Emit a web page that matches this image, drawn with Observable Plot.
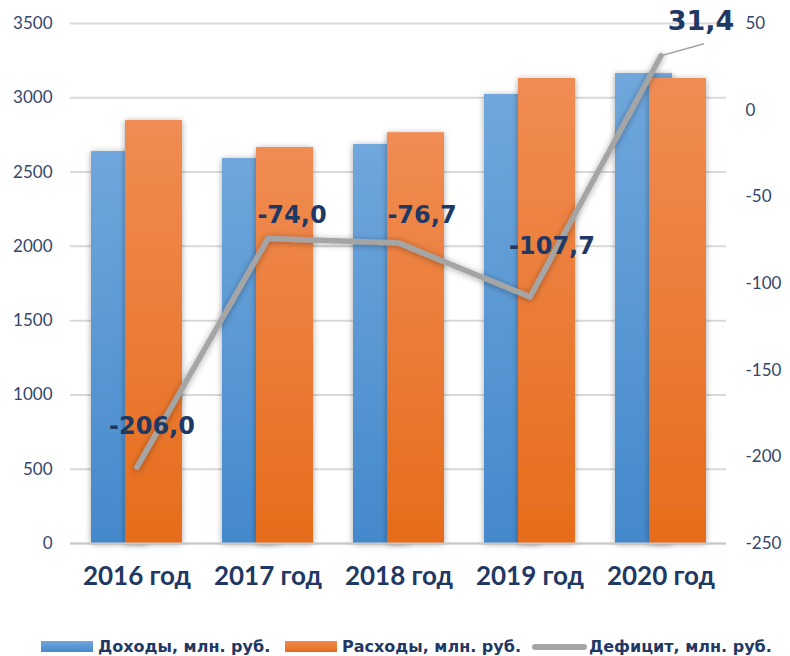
<!DOCTYPE html>
<html><head><meta charset="utf-8">
<script src="https://cdn.jsdelivr.net/npm/d3@7"></script>
<script src="https://cdn.jsdelivr.net/npm/@observablehq/plot@0.6"></script>
<style>
body{margin:0;background:#fff;position:relative;width:790px;height:656px;overflow:hidden;font-family:"DejaVu Sans",sans-serif;}
#legend .item{position:absolute;top:637px;display:flex;align-items:center;font-weight:bold;font-size:16px;color:#1f3864;white-space:nowrap;}
#legend .sw{width:52px;height:11px;margin-right:5px;}
</style></head><body>
<div id="chart"></div>
<div id="legend"></div>
<script>
const years = ["2016 год", "2017 год", "2018 год", "2019 год", "2020 год"];
const income = [2638, 2591, 2686, 3022, 3163];
const expenses = [2847, 2665, 2765, 3130, 3130];
const deficit = [-206.0, -74.0, -76.7, -107.7, 31.4];
const deficitLabels = ["-206,0", "-74,0", "-76,7", "-107,7", "31,4"];
const leftTicks = [0, 500, 1000, 1500, 2000, 2500, 3000, 3500];
const rightTicks = [-250, -200, -150, -100, -50, 0, 50];
const seriesNames = ["Доходы, млн. руб.", "Расходы, млн. руб.", "Дефицит, млн. руб."];
// label placement offsets (styling)
const labelDx = [15, 24, 23, 22, 40];
const labelDy = [-41, -23, -28, -51, -34];

const toLeft = v => (v + 250) / 300 * 3500;
const data = years.map((y, i) => ({year: y, income: income[i], expenses: expenses[i], deficit: deficit[i], label: deficitLabels[i]}));
const navy = "#1f3864";
const tickColor = "#34466b";

const chart = Plot.plot({
  width: 790, height: 625,
  marginLeft: 70, marginRight: 64, marginTop: 23, marginBottom: 82,
  style: {fontFamily: "Lato, 'DejaVu Sans', sans-serif", background: "#fff", overflow: "visible"},
  x: {domain: years, paddingInner: 0.3067, paddingOuter: 0.1533, axis: null, label: null},
  y: {domain: [0, 3500], axis: null, label: null},
  marks: [
    Plot.ruleY(leftTicks, {stroke: "#d9d9d9", strokeWidth: 2}),
    Plot.barY(data, {x: "year", y: "income", insetRight: 34, fill: "url(#gBlue)"}),
    Plot.barY(data, {x: "year", y: "expenses", insetLeft: 34, fill: "url(#gOrange)"}),
    Plot.ruleY([0], {stroke: "#c8c8c8", strokeWidth: 2}),
    Plot.axisY(leftTicks, {anchor: "left", label: null, tickSize: 0, tickPadding: 18, fontSize: 17, fill: tickColor, tickFormat: d => String(d)}),
    Plot.axisY(rightTicks.map(toLeft), {anchor: "right", label: null, tickSize: 0, tickPadding: 19, fontSize: 17, fill: tickColor, tickFormat: d => String(Math.round(d / 3500 * 300 - 250))}),
    Plot.axisX({label: null, tickSize: 0, tickPadding: 23, fontSize: 26, fontWeight: "bold", fill: navy, fontFamily: "Lato, 'DejaVu Sans', sans-serif"}),
    Plot.line(data, {x: "year", y: d => toLeft(d.deficit), stroke: "#a5a5a5", strokeWidth: 5.5, strokeLinecap: "round", strokeLinejoin: "round"}),
    Plot.link([data[4]], {
      x1: "year", y1: d => toLeft(d.deficit), x2: "year", y2: d => toLeft(d.deficit), stroke: "#a5a5a5", strokeWidth: 1.5,
      render(index, scales, values, dims, ctx, next) {
        const g = next(index, scales, values, dims, ctx);
        d3.select(g).selectAll("path").attr("d", function(_, j) {
          const i = index[j];
          const x = values.x1[i], y = values.y1[i];
          return `M${x},${y}L${x + 43},${y - 12}`;
        });
        return g;
      }
    }),
    ...data.map((d, i) => Plot.text([d], {x: "year", y: d => toLeft(d.deficit), text: "label", dx: labelDx[i], dy: labelDy[i], fontSize: i === 4 ? 27 : 24, fontWeight: "bold", fill: navy, fontFamily: "'DejaVu Sans', sans-serif"}))
  ]
});

const svg = d3.select(chart);
const defs = svg.insert("defs", ":first-child");
const gb = defs.append("linearGradient").attr("id", "gBlue").attr("x1", 0).attr("x2", 0).attr("y1", 0).attr("y2", 1);
gb.append("stop").attr("offset", "0%").attr("stop-color", "#70a7dc");
gb.append("stop").attr("offset", "100%").attr("stop-color", "#4489cc");
const go = defs.append("linearGradient").attr("id", "gOrange").attr("x1", 0).attr("x2", 0).attr("y1", 0).attr("y2", 1);
go.append("stop").attr("offset", "0%").attr("stop-color", "#f08c53");
go.append("stop").attr("offset", "100%").attr("stop-color", "#e66c1b");
const f = defs.append("filter").attr("id", "shadow").attr("x", "-20%").attr("y", "-20%").attr("width", "140%").attr("height", "140%");
f.append("feDropShadow").attr("dx", 0).attr("dy", 1).attr("stdDeviation", 3).attr("flood-color", "#000").attr("flood-opacity", 0.35);
svg.selectAll("g[aria-label='bar']").attr("filter", "url(#shadow)");
svg.selectAll("g[aria-label='line']").attr("filter", "url(#shadow)");
document.getElementById("chart").appendChild(chart);

const legend = d3.select("#legend");
const items = [
  {name: seriesNames[0], bg: "linear-gradient(#70a7dc,#4489cc)", left: 41, line: false},
  {name: seriesNames[1], bg: "linear-gradient(#f08c53,#e66c1b)", left: 285, line: false},
  {name: seriesNames[2], bg: "#a5a5a5", left: 532, line: true}
];
items.forEach(it => {
  const d = legend.append("div").attr("class", "item").style("left", it.left + "px");
  d.append("div").attr("class", "sw").style("background", it.bg)
    .style("height", it.line ? "6px" : "11px").style("border-radius", it.line ? "3px" : "0")
    .style("width", it.line ? "55px" : "52px").style("margin-right", it.line ? "2px" : "5px");
  d.append("span").text(it.name);
});
</script>
</body></html>
